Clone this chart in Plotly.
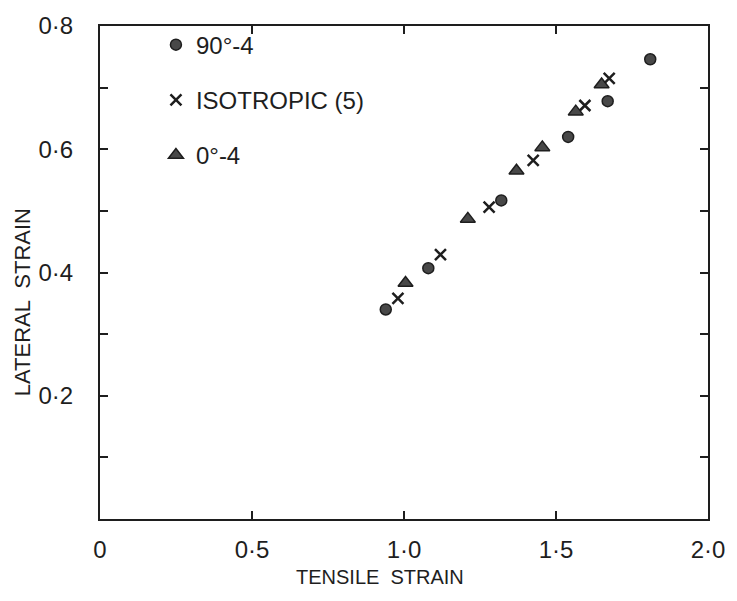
import plotly.graph_objects as go

# Lateral vs tensile strain for three laminate lay-ups
circ_x = [0.94, 1.08, 1.32, 1.54, 1.67, 1.81]
circ_y = [0.340, 0.407, 0.517, 0.620, 0.678, 0.746]

iso_x = [0.98, 1.12, 1.28, 1.425, 1.595, 1.675]
iso_y = [0.358, 0.429, 0.506, 0.582, 0.671, 0.715]

tri_x = [1.005, 1.21, 1.37, 1.455, 1.565, 1.65]
tri_y = [0.383, 0.487, 0.565, 0.603, 0.661, 0.705]

x_ticks = [0, 0.5, 1.0, 1.5, 2.0]
x_labels = ["0", "0·5", "1·0", "1·5", "2·0"]
y_ticks = [0.2, 0.4, 0.6, 0.8]
y_labels = ["0·2", "0·4", "0·6", "0·8"]

INK = "#1e1e1e"
FONT = "Liberation Sans, Arial, sans-serif"

fig = go.Figure()
fig.add_trace(go.Scatter(
    x=circ_x, y=circ_y, mode="markers", name="90°-4", legendgroup="a",
    marker=dict(symbol="circle", size=11, color="#484848",
                line=dict(color=INK, width=1.5)),
))
fig.add_trace(go.Scatter(
    x=iso_x, y=iso_y, mode="markers", name="ISOTROPIC (5)", legendgroup="b",
    marker=dict(symbol="x-thin", size=11, color=INK,
                line=dict(color=INK, width=2.5)),
))
fig.add_trace(go.Scatter(
    x=tri_x, y=tri_y, mode="markers", name="0°-4", legendgroup="c",
    marker=dict(symbol="triangle-up", size=13, color="#484848",
                line=dict(color=INK, width=1.5)),
))

axis_common = dict(
    showline=True, linewidth=2, linecolor=INK, mirror="allticks",
    ticks="inside", ticklen=8, tickwidth=1.5, tickcolor=INK,
    showgrid=False, zeroline=False,
    tickfont=dict(family=FONT, size=24, color=INK),
)

fig.update_xaxes(
    range=[0, 2.0], tickvals=x_ticks, ticktext=x_labels,
    ticklabelstandoff=8, **axis_common,
)
fig.update_yaxes(
    range=[0, 0.8], tickvals=y_ticks, ticktext=y_labels,
    ticklabelstandoff=20,
    minor=dict(dtick=0.1, tick0=0, ticks="inside", ticklen=8,
               tickwidth=1.5, tickcolor=INK),
    **axis_common,
)

fig.add_annotation(
    text="LATERAL  STRAIN", textangle=-90, xref="paper", yref="paper",
    x=-0.128, y=0.44, xanchor="center", yanchor="middle", showarrow=False,
    font=dict(family=FONT, size=22, color=INK),
)
fig.add_annotation(
    text="TENSILE  STRAIN", xref="paper", yref="paper",
    x=0.46, y=-0.118, xanchor="center", yanchor="middle", showarrow=False,
    font=dict(family=FONT, size=20, color=INK),
)

fig.update_layout(
    width=737, height=601,
    margin=dict(l=100, r=24, t=19, b=82),
    paper_bgcolor="white", plot_bgcolor="white",
    legend=dict(
        x=0.092, y=1.007, xanchor="left", yanchor="top",
        bgcolor="rgba(0,0,0,0)", tracegroupgap=21,
        font=dict(family=FONT, size=24, color=INK),
        itemwidth=30,
    ),
    showlegend=True,
)

fig.write_html("out.html")
